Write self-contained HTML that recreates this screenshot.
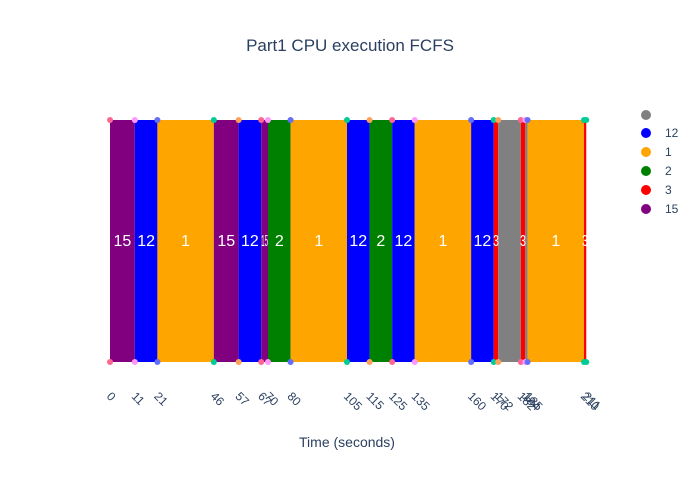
<!DOCTYPE html>
<html><head><meta charset="utf-8"><style>
body{margin:0;background:#fff}
svg{display:block;font-family:"Liberation Sans",Arial,sans-serif}
</style></head><body>
<svg id="s" width="700" height="500" xmlns="http://www.w3.org/2000/svg">
<rect width="700" height="500" fill="#fff"/>
<text x="350" y="51" text-anchor="middle" font-size="17" fill="#2a3f5f">Part1 CPU execution FCFS</text>
<text x="347" y="447" text-anchor="middle" font-size="14" fill="#2a3f5f">Time (seconds)</text>
<g id="bars"></g>
<g id="lg" font-size="12" fill="#2a3f5f">
<circle cx="646" cy="115" r="5" fill="gray"/>
<circle cx="646" cy="133" r="5" fill="blue"/><text x="665" y="137">12</text>
<circle cx="646" cy="152" r="5" fill="orange"/><text x="665" y="156">1</text>
<circle cx="646" cy="171" r="5" fill="green"/><text x="665" y="175">2</text>
<circle cx="646" cy="190" r="5" fill="red"/><text x="665" y="194">3</text>
<circle cx="646" cy="209" r="5" fill="purple"/><text x="665" y="213">15</text>
</g>
</svg>
<script>
var X=function(t){return 110+t*474/210};
var seg=[[0,11,'purple','15'],[11,21,'blue','12'],[21,46,'orange','1'],[46,57,'purple','15'],[57,67,'blue','12'],[67,70,'purple','15'],[70,80,'green','2'],[80,105,'orange','1'],[105,115,'blue','12'],[115,125,'green','2'],[125,135,'blue','12'],[135,160,'orange','1'],[160,170,'blue','12'],[170,172,'red','3'],[172,182,'gray',''],[182,184,'red','3'],[184,185,'gray',''],[185,210,'orange','1'],[210,211,'red','3']];
var cols=['#FF6692','#FF97FF','#636efa','#00cc96','#FFA15A'];
var h='';
seg.forEach(function(s,i){var a=X(s[0]),b=X(s[1]);
h+='<rect x="'+a+'" y="120" width="'+(b-a)+'" height="242" fill="'+s[2]+'"/>';});
seg.forEach(function(s,i){var a=X(s[0]),b=X(s[1]);
if(s[3]){var w=s[3].length*9.5;var cx=(a+b)/2;
h+='<text x="'+cx+'" y="246" text-anchor="middle" font-size="16" fill="#fff"'+(b-a<w?' textLength="'+Math.max(b-a,6)+'" lengthAdjust="spacingAndGlyphs"':'')+'>'+s[3]+'</text>';}});
var ticks=[0,11,21,46,57,67,70,80,105,115,125,135,160,170,172,182,184,185,210,211];
ticks.forEach(function(t,i){var x=X(t);var c=cols[i%5];if(t==211)c='#00cc96';
h+='<circle cx="'+x+'" cy="120" r="3" fill="'+c+'"/><circle cx="'+x+'" cy="362" r="3" fill="'+c+'"/>';
h+='<text font-size="12" fill="#2a3f5f" transform="translate('+(x-4)+',397) rotate(45)">'+t+'</text>';});
document.getElementById('bars').innerHTML=h;
</script>
</body></html>
